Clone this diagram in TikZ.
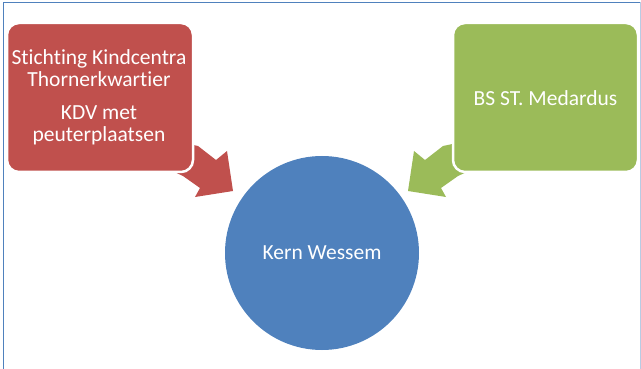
\documentclass[tikz,border=0pt]{standalone}
\usepackage{fontspec}
\setmainfont{Carlito}[Ligatures=NoCommon]
\definecolor{cred}{HTML}{C0504D}
\definecolor{cgreen}{HTML}{9BBB59}
\definecolor{cblue}{HTML}{4F81BD}
\definecolor{cframe}{HTML}{4F81BD}
\definecolor{cframelight}{HTML}{B8CCE4}
\begin{document}
\begin{tikzpicture}[x=1pt,y=-1pt,
  boxstyle/.style={rounded corners=12pt, draw=white, line width=2.5pt},
  lbl/.style={text=white, font=\fontsize{21.5}{22}\selectfont, align=center}]
\useasboundingbox (0,0) rectangle (641,369);
% frame
\draw[cframe, line width=1.2pt] (3.5,375) -- (3.5,2.5) -- (640,2.5);
\draw[cframelight, line width=1pt] (640,2.5) -- (640,375);
% arrows
\fill[cred] (170,140) -- (198,146) -- (216,160) -- (227,151) -- (233,191) -- (195,197) -- (200,188) -- (183,176) -- (170,170) -- cycle;
\fill[cgreen] (471,140) -- (443,146) -- (425,160) -- (414,151) -- (408,191) -- (446,197) -- (441,188) -- (458,176) -- (471,170) -- cycle;
% boxes
\path[fill=cred, boxstyle] (7,23) rectangle (193,172);
\coordinate (rc) at (99,97);
\path[fill=cgreen, boxstyle] (453,23) rectangle (638,172);
\coordinate (gc) at (545.5,98);
\node[lbl] (red) at (rc) {Stichting Kindcentra\\Thornerkwartier\\[11pt]KDV met\\peuterplaatsen};
\node[lbl] (green) at (gc) {BS ST. Medardus};
% circle
\node[circle, fill=cblue, minimum size=194pt, inner sep=0pt, lbl] (kern) at (322,253) {Kern Wessem};
\end{tikzpicture}
\end{document}
